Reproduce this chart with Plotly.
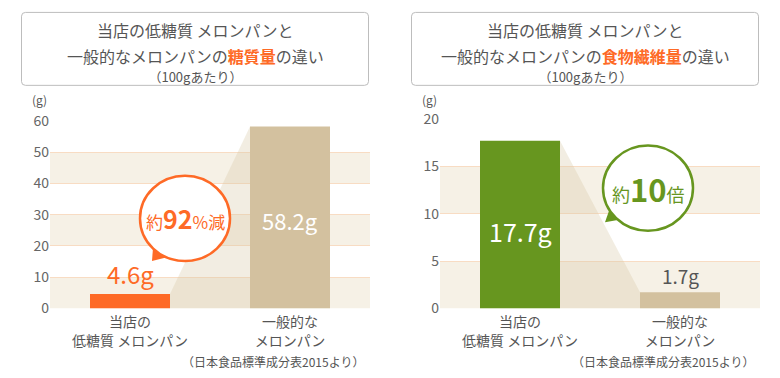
import plotly.graph_objects as go

W, H = 780, 378

# ---- data ----
categories = ["当店の<br>低糖質 メロンパン", "一般的な<br>メロンパン"]
sugar_values = [4.6, 58.2]
fiber_values = [17.7, 1.7]
sugar_ticks = [0, 10, 20, 30, 40, 50, 60]
fiber_ticks = [0, 5, 10, 15, 20]
sugar_labels = ["4.6g", "58.2g"]
fiber_labels = ["17.7g", "1.7g"]
sugar_callout = ("約", "92", "%減")
fiber_callout = ("約", "10", "倍")
title_line1 = "当店の低糖質 メロンパンと"
sugar_title2 = ("一般的なメロンパンの", "糖質量", "の違い")
fiber_title2 = ("一般的なメロンパンの", "食物繊維量", "の違い")
title_line3 = "（100gあたり）"
source_note = "（日本食品標準成分表2015より）"

FONT = "Noto Sans CJK JP"
TXT = "#555555"
ORANGE = "#fe6a26"
GREEN = "#67961f"
TAN = "#d3c19f"
BAND = "#f6f1e6"
GRID = "#f8dcc3"


def px(x):
    return x / W


def py(y):
    return 1 - y / H


def note(text, x, y, size, color=TXT, xanchor="center", yanchor="middle"):
    return dict(text=text, x=px(x), y=py(y), xref="paper", yref="paper",
                xanchor=xanchor, yanchor=yanchor, showarrow=False,
                font=dict(family=FONT, size=size, color=color))


fig = go.Figure()

panels = [
    dict(xa="x", ya="y", vals=sugar_values, ticks=sugar_ticks, colors=[ORANGE, TAN], x0=50),
    dict(xa="x2", ya="y2", vals=fiber_values, ticks=fiber_ticks, colors=[GREEN, TAN], x0=440),
]

shapes = []
annotations = []

for p in panels:
    xs = [0, 1]
    # connecting shaded polygon between the two bars
    fig.add_trace(go.Scatter(
        x=[0.25, 0.75, 0.75, 0.25], y=[p["vals"][0], p["vals"][1], 0, 0],
        fill="toself", fillcolor="rgba(215,200,165,0.32)", mode="lines",
        line=dict(width=0), hoverinfo="skip", showlegend=False,
        xaxis=p["xa"], yaxis=p["ya"]))
    fig.add_trace(go.Bar(
        x=xs, y=p["vals"], width=0.5, marker=dict(color=p["colors"], line=dict(width=0)),
        hoverinfo="skip", showlegend=False, xaxis=p["xa"], yaxis=p["ya"]))
    t = p["ticks"]
    for k in range(0, len(t) - 1, 2):
        shapes.append(dict(type="rect", xref=f"{p['xa']} domain", yref=p["ya"],
                           x0=0, x1=1, y0=t[k], y1=t[k + 1], fillcolor=BAND,
                           line=dict(width=0), layer="below"))
    annotations.append(note("(g)", p["x0"] - 11, 93, 12))

# value labels
annotations += [
    dict(text=sugar_labels[0], x=0, y=sugar_values[0], xref="x", yref="y", yanchor="bottom",
         yshift=1, showarrow=False, font=dict(family=FONT, size=24, color=ORANGE)),
    dict(text=sugar_labels[1], x=1, y=sugar_values[1] / 2, xref="x", yref="y", yanchor="middle",
         yshift=-3, showarrow=False, font=dict(family=FONT, size=22, color="white")),
    dict(text=fiber_labels[0], x=0, y=fiber_values[0] / 2, xref="x2", yref="y2", yanchor="middle",
         yshift=-6, showarrow=False, font=dict(family=FONT, size=25, color="white")),
    dict(text=fiber_labels[1], x=1, y=fiber_values[1], xref="x2", yref="y2", yanchor="bottom",
         yshift=1, showarrow=False, font=dict(family=FONT, size=19, color=TXT)),
]


def rounded_rect(x0, y0, x1, y1, r):
    rx, ry = r / W, r / H
    X0, X1, Y0, Y1 = px(x0), px(x1), py(y0), py(y1)
    return (f"M{X0+rx},{Y0} L{X1-rx},{Y0} Q{X1},{Y0} {X1},{Y0-ry} "
            f"L{X1},{Y1+ry} Q{X1},{Y1} {X1-rx},{Y1} L{X0+rx},{Y1} "
            f"Q{X0},{Y1} {X0},{Y1+ry} L{X0},{Y0-ry} Q{X0},{Y0} {X0+rx},{Y0} Z")


for off, t2 in [(0, sugar_title2), (390, fiber_title2)]:
    shapes.append(dict(type="path", xref="paper", yref="paper",
                       path=rounded_rect(21.5 + off, 1.5, 368.5 + off, 78.5, 4),
                       line=dict(color="#bdbdbd", width=1), fillcolor="white"))
    cx = 195 + off
    annotations.append(note(title_line1, cx, 20, 16))
    annotations.append(note(
        f"<span style='font-size:16px'>{t2[0]}<b><span style='color:{ORANGE}'>{t2[1]}</span></b>{t2[2]}</span>"
        f"<br><span style='font-size:13px'>{title_line3}</span>", cx, 57.5, 14.5))
    annotations.append(note(source_note, 366 + off, 370, 12, xanchor="right"))

# callouts
for (cxp, cyp, r, tail, color, parts, bigsize, small) in [
    (185, 219, 45, [(152, 264), (153, 250), (167, 260)], ORANGE, sugar_callout, 25, 17),
    (648, 187, 45, [(605, 223), (610, 208), (622, 220)], GREEN, fiber_callout, 31, 18),
]:
    (a, b), (c, d), (e, f) = tail
    shapes.append(dict(type="path", xref="paper", yref="paper",
                       path=f"M{px(a)},{py(b)} L{px(c)},{py(d)} L{px(e)},{py(f)} Z",
                       fillcolor=color, line=dict(width=0)))
    shapes.append(dict(type="circle", xref="paper", yref="paper",
                       x0=px(cxp - r), x1=px(cxp + r), y0=py(cyp + r), y1=py(cyp - r),
                       fillcolor="white", line=dict(color=color, width=2.5)))
    annotations.append(note(
        f"{parts[0]}<b><span style='font-size:{bigsize}px'>{parts[1]}</span></b>{parts[2]}",
        cxp, cyp, small, color=color))

axis_common = dict(showline=False, zeroline=False)
xcommon = dict(range=[-0.5, 1.5], tickvals=[0, 1], ticktext=categories, showgrid=False, ticks="",
               ticklabelstandoff=4, tickfont=dict(size=14, color=TXT), **axis_common)
ycommon = dict(showgrid=True, gridcolor=GRID, gridwidth=1, ticks="",
               tickfont=dict(size=14, color="#666"), **axis_common)
fig.update_layout(
    width=W, height=H, margin=dict(l=0, r=0, t=0, b=0),
    paper_bgcolor="white", plot_bgcolor="white",
    font=dict(family=FONT, color=TXT),
    shapes=shapes, annotations=annotations,
    xaxis=dict(domain=[px(50), px(370)], anchor="y", **xcommon),
    xaxis2=dict(domain=[px(440), px(760)], anchor="y2", **xcommon),
    yaxis=dict(domain=[py(314), py(116)], range=[0, 60], tickvals=sugar_ticks, anchor="x", **ycommon),
    yaxis2=dict(domain=[py(314), py(114)], range=[0, 20], tickvals=fiber_ticks, anchor="x2", **ycommon),
)

fig.write_html("out.html", config={"displayModeBar": False},
               post_script="document.body.style.margin='0';")
